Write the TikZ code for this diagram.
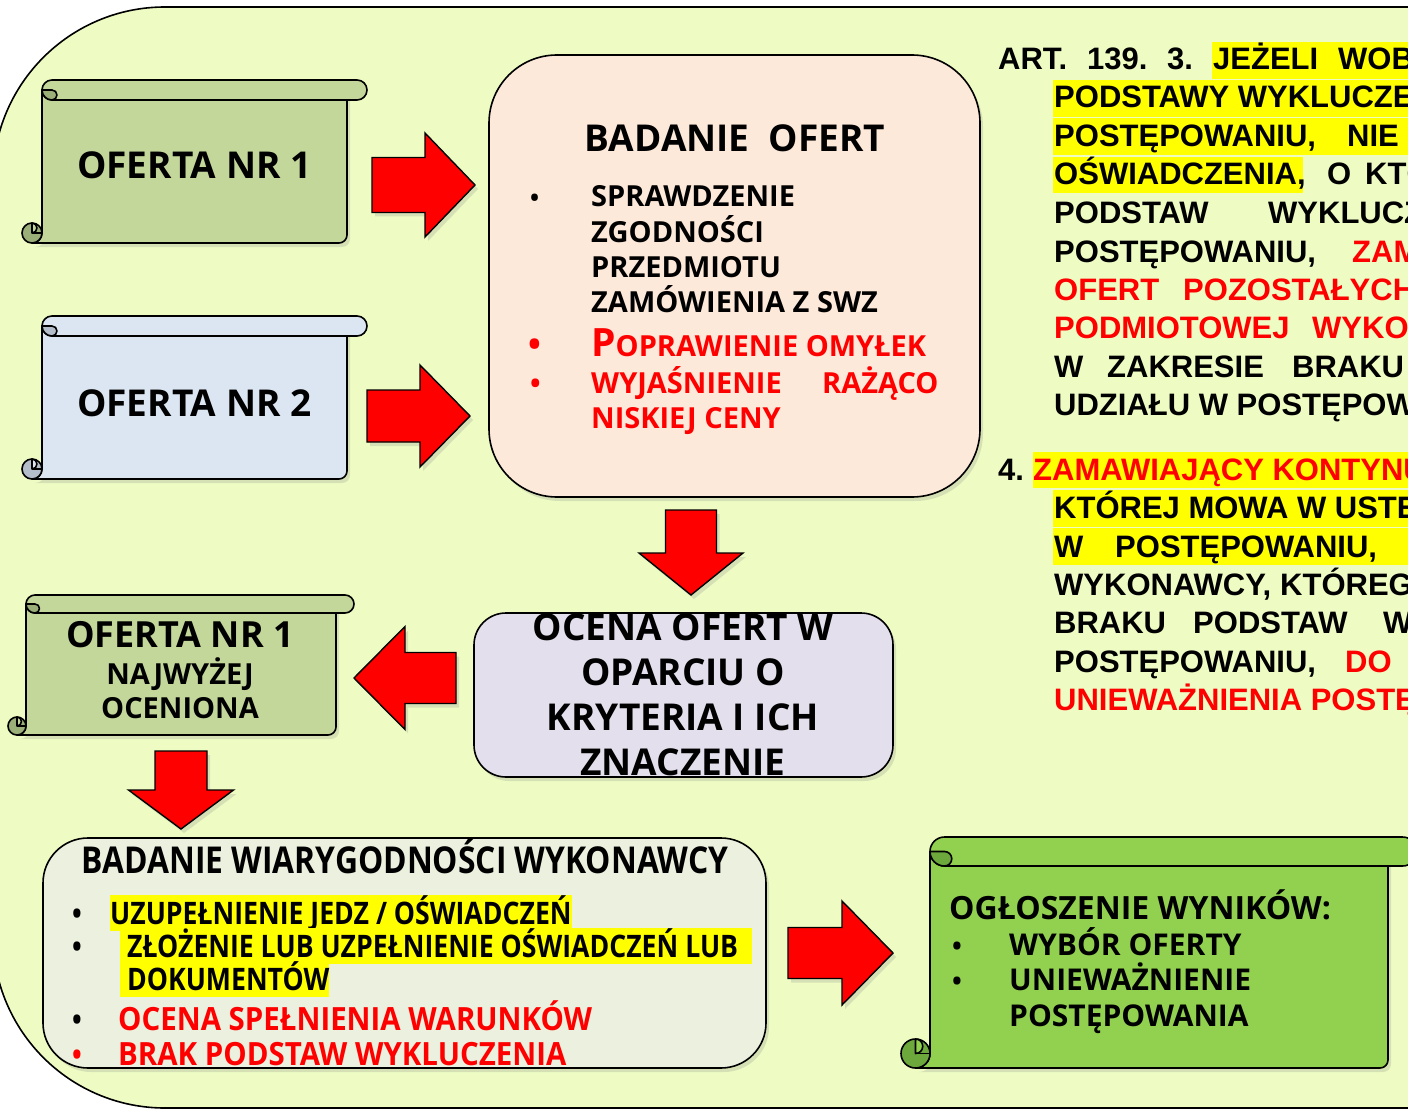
\documentclass[tikz,border=0pt]{standalone}
\usepackage{fontspec}
\usetikzlibrary{shadows}
\newfontfamily\osb{Open Sans}
\newfontfamily\osc{Open Sans}[FakeStretch=0.86]
\newfontfamily\osd{Open Sans}[FakeStretch=0.92]
\newfontfamily\ar{Liberation Sans}
\definecolor{bg}{RGB}{238,252,196}
\definecolor{olive}{RGB}{196,215,155}
\definecolor{olived}{RGB}{155,175,120}
\definecolor{sky}{RGB}{220,230,242}
\definecolor{skyd}{RGB}{180,190,202}
\definecolor{lime}{RGB}{146,208,80}
\definecolor{limed}{RGB}{108,168,60}
\definecolor{peach}{RGB}{253,233,217}
\definecolor{lav}{RGB}{228,223,236}
\definecolor{pale}{RGB}{235,241,222}
\definecolor{hred}{RGB}{255,0,0}
\definecolor{hyel}{RGB}{255,255,0}
\newcommand\fsz[1]{\fontsize{#1}{#1}\selectfont}
\newcommand\hlb[1]{{\setlength{\fboxsep}{0pt}\colorbox{hyel}{\rule[-7pt]{0pt}{33pt}#1}}}
\newcommand\scrollbox[7]{%
  \pgfmathsetmacro\sh{#5/2}%
  \pgfmathsetmacro\sq{#5/4}%
  \pgfmathsetmacro\rb{#3-#5}%
  \filldraw[fill=#6, scrline, shd] (#1,{#2+\sh}) -- (#1,{#4-\sh})
     arc[start angle=0,end angle=90,radius=\sh] -- ({\rb-8},#4)
     arc[start angle=90,end angle=0,radius=8] -- (\rb,{#2+\sh}) -- cycle;
  \filldraw[fill=#7, scrline] ({#1-\sh},{#4-\sh}) circle[radius=\sh];
  \filldraw[fill=#6, scrline] ({#1-\sh},{#4-#5}) arc[start angle=-90,end angle=90,radius=\sq] -- cycle;
  \draw[scrline] ({#1-\sh},{#4-\sh}) -- (#1,{#4-\sh});
  \filldraw[fill=#6, scrline, rounded corners=\sh pt] (#1,#2) rectangle (#3,{#2+#5});
  \filldraw[fill=#7, scrline] ({#1+\sh},{#2+\sh}) arc[start angle=-90,end angle=90,radius=\sq]
     arc[start angle=90,end angle=180,radius=\sh] -- cycle;
}
\newcommand\blockarrow[8]{%
  \coordinate (#1) at (#2,#3);
  \begin{scope}[shift={(#1)}, rotate=#4]
    \filldraw[barrow] (0,{-#6/2}) -- ({#5-#8},{-#6/2}) -- ({#5-#8},{-#7/2}) -- (#5,0)
      -- ({#5-#8},{#7/2}) -- ({#5-#8},{#6/2}) -- (0,{#6/2}) -- cycle;
  \end{scope}}
\begin{document}
\begin{tikzpicture}[x=1pt,y=-1pt,
  t/.style={inner sep=0pt, anchor=base west},
  tc/.style={inner sep=0pt, anchor=base},
  shd/.style={drop shadow={opacity=0.22,shadow xshift=3pt,shadow yshift=-4pt}},
  scrline/.style={draw=black, line width=1.6pt, line join=round},
  rbox/.style={draw=black, line width=1.6pt, inner sep=0pt, shd},
  barrow/.style={fill=hred, draw=black, line width=1.4pt, line join=miter, shd},
  ]
\useasboundingbox (0,0) rectangle (1408,1110);
\clip (0,0) rectangle (1408,1110);
\fill[white] (0,0) rectangle (1408,1110);
% background panel
\filldraw[fill=bg, draw=black, line width=1.6pt] (1500,7) -- (165,7)
  arc[start angle=-90,end angle=-180,radius=172] -- (-7,936)
  arc[start angle=180,end angle=90,radius=172] -- (1500,1108) -- cycle;

% ---------- scrolls ----------
\scrollbox{42}{80}{367}{243}{20}{olive}{olived}
\node[t, font=\osb\bfseries\fsz{37}] (of1) at (77,179) {OFERTA NR 1};
\scrollbox{42}{316}{367}{479}{20}{sky}{skyd}
\node[t, font=\osb\bfseries\fsz{37}] (of2) at (77,416) {OFERTA NR 2};
\scrollbox{26}{595}{354}{735}{18}{olive}{olived}
\node[tc, font=\osb\bfseries\fsz{36}] (of3) at (180,647) {OFERTA NR 1};
\node[tc, font=\osb\bfseries\fsz{29}] (of3b) at (180,684) {NAJWYŻEJ};
\node[tc, font=\osb\bfseries\fsz{29}] (of3c) at (180,718) {OCENIONA};
\scrollbox{930}{837}{1417}{1068}{29}{lime}{limed}
\node[t, font=\osb\bfseries\fsz{32}] (og) at (949,919) {OGŁOSZENIE WYNIKÓW:};
\node[t, font=\osb\bfseries\fsz{26}] (ogb1) at (952,955) {•};
\node[t, font=\osb\bfseries\fsz{30}] (og1) at (1009,955) {WYBÓR OFERTY};
\node[t, font=\osb\bfseries\fsz{26}] (ogb2) at (952,990) {•};
\node[t, font=\osb\bfseries\fsz{30}] (og2) at (1009,990) {UNIEWAŻNIENIE};
\node[t, font=\osb\bfseries\fsz{30}] (og3) at (1009,1026) {POSTĘPOWANIA};

% ---------- rounded boxes ----------
\node[rbox, fill=peach, rounded corners=68pt, minimum width=491pt, minimum height=442pt] (bo) at (734.5,276) {};
\node[tc, font=\osb\bfseries\fsz{37}] (botitle) at (735,152) {BADANIE\ \ OFERT};
\node[t, font=\osb\bfseries\fsz{24}] (bob1) at (530,207) {•};
\node[t, font=\osb\bfseries\fsz{29}] (bo1) at (591,207) {SPRAWDZENIE};
\node[t, font=\osb\bfseries\fsz{29}] (bo2) at (591,242) {ZGODNOŚCI};
\node[t, font=\osb\bfseries\fsz{29}] (bo3) at (591,277) {PRZEDMIOTU};
\node[t, font=\osb\bfseries\fsz{29}] (bo4) at (591,312) {ZAMÓWIENIA Z SWZ};
\node[t, font=\osb\bfseries\fsz{34}, text=hred] (bob2) at (528,356) {•};
\node[t, font=\osb\bfseries, text=hred] (bo5) at (591,356) {{\fsz{39}P}{\fsz{29}OPRAWIENIE OMYŁEK}};
\node[t, font=\osb\bfseries\fsz{28}, text=hred] (bob3) at (530,393) {•};
\node[t, font=\osb\bfseries\fsz{29}, text=hred] (bo6) at (591,393) {WYJAŚNIENIE};
\node[t, font=\osb\bfseries\fsz{29}, text=hred] (bo6b) at (822,393) {RAŻĄCO};
\node[t, font=\osb\bfseries\fsz{29}, text=hred] (bo7) at (591,428) {NISKIEJ CENY};

\node[rbox, fill=lav, rounded corners=32pt, minimum width=419pt, minimum height=164pt] (oc) at (683.5,695) {};
\node[tc, font=\osb\bfseries\fsz{37}] (oc1) at (683,640) {OCENA OFERT W};
\node[tc, font=\osb\bfseries\fsz{37}] (oc2) at (683,685) {OPARCIU O};
\node[tc, font=\osb\bfseries\fsz{37}] (oc3) at (683,730) {KRYTERIA I ICH};
\node[tc, font=\osb\bfseries\fsz{37}] (oc4) at (683,775) {ZNACZENIE};

\node[rbox, fill=pale, rounded corners=45pt, minimum width=723pt, minimum height=230pt] (bw) at (404.5,953) {};
\node[tc, font=\osc\bfseries\fsz{37}] (bwt) at (405,873) {BADANIE WIARYGODNOŚCI WYKONAWCY};
\node[t, font=\osc\bfseries\fsz{30}] (bwb1) at (72,924) {•};
\node[t, font=\osc\bfseries\fsz{31}] (bw1) at (110,924) {\hlb{UZUPEŁNIENIE JEDZ / OŚWIADCZEŃ}};
\node[t, font=\osc\bfseries\fsz{30}] (bwb2) at (72,957) {•};
\node[t, font=\osc\bfseries\fsz{31}] (bw2) at (120,957) {\hlb{\ ZŁOŻENIE LUB UZPEŁNIENIE OŚWIADCZEŃ LUB\ \ }};
\node[t, font=\osc\bfseries\fsz{31}] (bw3) at (120,990) {\hlb{\ DOKUMENTÓW}};
\node[t, font=\osc\bfseries\fsz{30}] (bwb4) at (72,1030) {•};
\node[t, font=\osd\bfseries\fsz{32}, text=hred] (bw4) at (118,1030) {OCENA SPEŁNIENIA WARUNKÓW};
\node[t, font=\osc\bfseries\fsz{30}, text=hred] (bwb5) at (72,1065) {•};
\node[t, font=\osd\bfseries\fsz{32}, text=hred] (bw5) at (118,1065) {BRAK PODSTAW WYKLUCZENIA};

% ---------- block arrows ----------
\blockarrow{a1}{372}{185}{0}{103}{55}{104}{50}
\blockarrow{a2}{367}{416}{0}{103}{52}{102}{50}
\blockarrow{a3}{691}{510}{-90}{85}{51}{104}{42}
\blockarrow{a4}{456}{678}{180}{102}{51}{103}{51}
\blockarrow{a5}{181}{751}{-90}{78}{52}{105}{39}
\blockarrow{a6}{788}{953}{0}{105}{51}{104}{51}

% ---------- legal text ----------
\fill[hyel] (1212,42) rectangle (1420,79);
\fill[hyel] (1053,80) rectangle (1420,117);
\fill[hyel] (1053,118) rectangle (1420,155);
\fill[hyel] (1053,157) rectangle (1303,193);
\fill[hyel] (1033,452) rectangle (1420,488);
\fill[hyel] (1053,490) rectangle (1420,527);
\fill[hyel] (1053,528) rectangle (1420,565);
\begin{scope}[every node/.style={t, font=\ar\bfseries\fsz{31}}]
\node (r1a) at (998,70) {ART.};
\node (r1b) at (1087,70) {139.};
\node (r1c) at (1167,70) {3.};
\node (r1d) at (1213,70) {JEŻELI};
\node (r1e) at (1338,70) {WOBEC};
\node (r2) at (1054,108) {PODSTAWY WYKLUCZENIA};
\node (r3a) at (1054,147) {POSTĘPOWANIU,};
\node (r3b) at (1347,147) {NIE};
\node (r4a) at (1054,185) {OŚWIADCZENIA,};
\node (r4b) at (1327,185) {O};
\node (r4c) at (1365,185) {KTÓRYM};
\node (r5a) at (1054,223) {PODSTAW};
\node (r5b) at (1268,223) {WYKLUCZENIA};
\node (r6a) at (1054,262) {POSTĘPOWANIU,};
\node[text=hred] (r6b) at (1352,262) {ZAMAWIAJĄCY};
\node[text=hred] (r7a) at (1054,300) {OFERT};
\node[text=hred] (r7b) at (1183,300) {POZOSTAŁYCH};
\node[text=hred] (r8a) at (1054,338) {PODMIOTOWEJ};
\node[text=hred] (r8b) at (1312,338) {WYKONAWCY};
\node (r9a) at (1054,377) {W};
\node (r9b) at (1107,377) {ZAKRESIE};
\node (r9c) at (1292,377) {BRAKU};
\node (r10) at (1054,415) {UDZIAŁU W POSTĘPOWANIU};
\node (s1a) at (998,480) {4.};
\node[text=hred] (s1b) at (1033,480) {ZAMAWIAJĄCY KONTYNUUJE};
\node (s2) at (1054,518) {KTÓREJ MOWA W USTĘPIE};
\node (s3a) at (1054,557) {W};
\node (s3b) at (1115,557) {POSTĘPOWANIU,};
\node (s4a) at (1054,595) {WYKONAWCY,};
\node (s4b) at (1280,595) {KTÓREGO};
\node (s5a) at (1054,633) {BRAKU};
\node (s5b) at (1193,633) {PODSTAW};
\node (s5c) at (1383,633) {WYKLUCZENIA};
\node (s6a) at (1054,672) {POSTĘPOWANIU,};
\node[text=hred] (s6b) at (1345,672) {DO};
\node[text=hred] (s7) at (1054,710) {UNIEWAŻNIENIA POSTĘPOWANIA};
\end{scope}
\end{tikzpicture}
\end{document}
